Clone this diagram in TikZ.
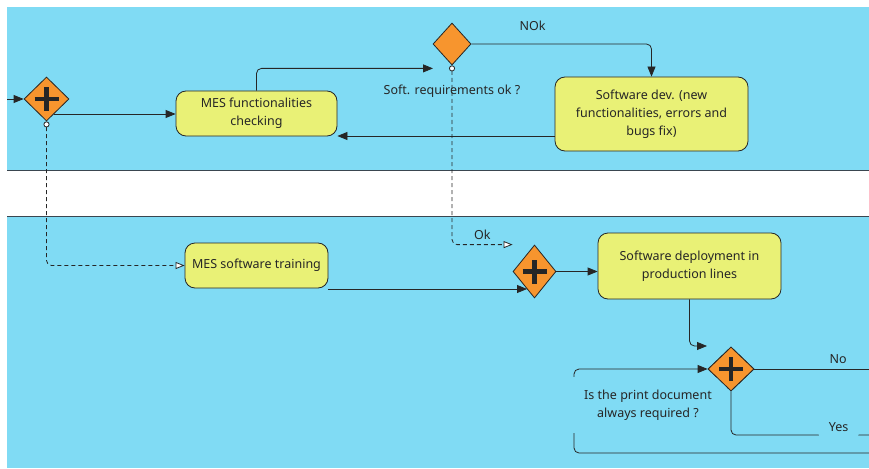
\documentclass[tikz,border=0pt]{standalone}
\usepackage{fontspec}
\setmainfont{Noto Sans}
\usetikzlibrary{shapes.geometric,arrows.meta}
\definecolor{lane}{RGB}{128,219,244}
\definecolor{taskfill}{RGB}{233,241,118}
\definecolor{gatefill}{RGB}{247,149,46}
\definecolor{ink}{RGB}{38,38,38}
\definecolor{laneline}{RGB}{58,70,80}

\begin{document}
\begin{tikzpicture}[x=1pt, y=-1pt, font=\fontsize{12.5}{18}\selectfont, text=ink]
    \tikzstyle{task} = [draw=ink, line width=0.8pt, fill=taskfill, rounded corners=10pt, align=center, inner sep=2pt]
    \tikzstyle{gate} = [diamond, draw=ink, line width=0.8pt, fill=gatefill, inner sep=0pt]
    \tikzstyle{pgate} = [gate, path picture={
        \draw[ink, line width=4.5pt] ([xshift=-12pt]path picture bounding box.center) -- ([xshift=12pt]path picture bounding box.center)
            ([yshift=-12pt]path picture bounding box.center) -- ([yshift=12pt]path picture bounding box.center);}]
    \tikzstyle{flow} = [draw=ink, line width=0.8pt, rounded corners=5pt, -{Triangle[length=10pt,width=8pt]}]
    \tikzstyle{cond} = [draw=ink, line width=0.8pt, rounded corners=5pt, dash pattern=on 4pt off 3pt,
        {Circle[length=6pt,fill=white,line width=0.8pt]}-{Triangle[length=9pt,width=7pt,fill=white,line width=0.8pt]}]
    \tikzstyle{line} = [draw=ink, line width=0.8pt, rounded corners=5pt]
    \tikzstyle{ann} = [draw=none, fill=none, align=center]

    \useasboundingbox (0,0) rectangle (869,468);

    \fill[lane] (7,7) rectangle (869,170);
    \fill[lane] (7,216) rectangle (869,468);
    \draw[laneline, line width=1pt] (7,170) -- (869,170);
    \draw[laneline, line width=1pt] (7,216) -- (869,216);

    \node[pgate, minimum width=45pt, minimum height=44pt] (1) at (46.5,99) {};
    \node[task, minimum width=161pt, minimum height=45pt] (2) at (256.5,113.5) {MES functionalities\\checking};
    \node[gate, minimum width=38pt, minimum height=42pt] (3) at (452,44) {};
    \node[task, minimum width=193pt, minimum height=74pt] (4) at (651.5,114) {Software dev. (new\\functionalities, errors and\\bugs fix)};
    \node[task, minimum width=143pt, minimum height=45pt] (5) at (256.5,265.5) {MES software training};
    \node[pgate, minimum width=43pt, minimum height=53pt] (6) at (534.5,271.5) {};
    \node[task, minimum width=183pt, minimum height=66pt] (7) at (689.5,266) {Software deployment in\\production lines};
    \node[pgate, minimum width=46pt, minimum height=44pt] (8) at (731,369) {};

    \node[ann] (9) at (452,91) {Soft. requirements ok ?};

    \coordinate (in) at (7,99);
    \coordinate (g1out) at ([xshift=7pt,yshift=-15pt]1.center);
    \coordinate (g3in) at ([xshift=-19pt,yshift=-3pt]3.south);
    \coordinate (back) at ([yshift=-22pt]4.west);
    \coordinate (g6in) at ([xshift=-7.5pt,yshift=-17.5pt]6.center);
    \coordinate (g8in) at ([xshift=-24pt,yshift=23pt]8.center);
    \coordinate (loop) at (869,453);
    \coordinate (no) at (869,369);
    \coordinate (yes) at (869,435);

    \draw[flow]  (in) -- (1.west);
    \draw[flow]  (g1out) -- (g1out -| 2.west);
    \draw[flow]  (2.north) |- (g3in);
    \draw[flow]  (3.east) -| node[pos=0.17, above=10pt]{NOk} (4.north);
    \draw[flow]  (back) -- (back -| 2.east);
    \draw[cond]  (1.south) |- (5.west);
    \draw[flow]  (g6in -| 5.east) -- (g6in);
    \draw[cond]  (3.south) |- node[pos=0.75, above=1pt]{Ok} (6.west |- 6.north);
    \draw[flow]  (6.east) -- (6.east -| 7.west);
    \draw[flow]  (7.south) |- (g8in);
    \draw[flow]  (loop) -| (8.west -| 574,0) -- (8.west);
    \draw[line]  (8.east) -- node[pos=0.73, above=2pt]{No} (no);
    \draw[line]  (8.south) |- node[pos=0.89, fill=lane, inner xsep=11pt, inner ysep=6pt, yshift=8pt]{Yes} (yes);

    \node[ann, fill=lane, minimum width=158pt, minimum height=56pt] (10) at (648,405) {Is the print document\\always required ?};
    \node[pgate, minimum width=46pt, minimum height=44pt] at (8) {};

\end{tikzpicture}
\end{document}
